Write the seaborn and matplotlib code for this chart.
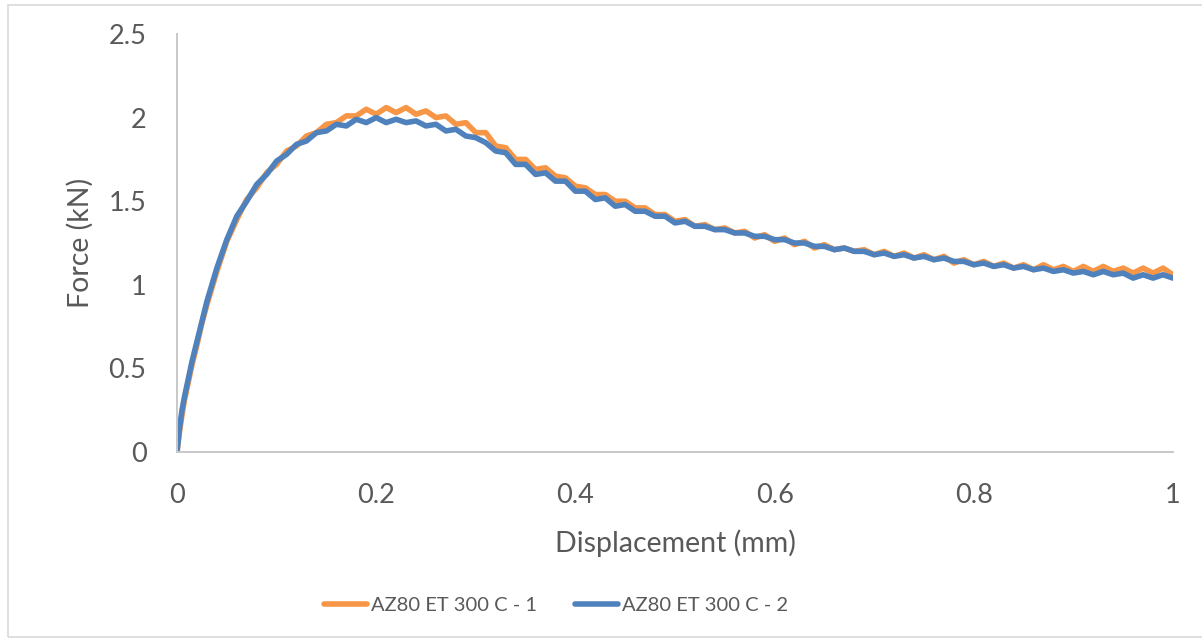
import numpy as np
import pandas as pd
import matplotlib
matplotlib.use("Agg")
import matplotlib.pyplot as plt
import seaborn as sns
from matplotlib.patches import Rectangle

# Displacement sampling (mm): fine steps over the initial elastic rise, then 0.01 mm
disp = [0.0, 0.0025, 0.005, 0.0075, 0.01, 0.015, 0.02, 0.025] + \
       [round(0.03 + 0.01 * i, 2) for i in range(98)]

# Force (kN), specimen 1
force_1 = [
    0.00, 0.12, 0.22, 0.31, 0.38, 0.52, 0.64, 0.77,
    0.88, 1.08, 1.26, 1.39, 1.51, 1.58, 1.67, 1.72, 1.80, 1.83,
    1.89, 1.91, 1.96, 1.97, 2.01, 2.01, 2.05, 2.02, 2.06, 2.03,
    2.06, 2.02, 2.04, 2.00, 2.01, 1.96, 1.97, 1.91, 1.91, 1.83,
    1.82, 1.75, 1.75, 1.69, 1.70, 1.65, 1.64, 1.59, 1.58, 1.54,
    1.54, 1.50, 1.50, 1.46, 1.46, 1.42, 1.42, 1.38, 1.39, 1.35,
    1.36, 1.33, 1.34, 1.31, 1.32, 1.28, 1.30, 1.26, 1.28, 1.24,
    1.26, 1.22, 1.24, 1.21, 1.22, 1.20, 1.21, 1.18, 1.20, 1.17,
    1.19, 1.16, 1.18, 1.15, 1.17, 1.13, 1.15, 1.12, 1.14, 1.11,
    1.13, 1.10, 1.12, 1.09, 1.12, 1.09, 1.11, 1.08, 1.11, 1.08,
    1.11, 1.08, 1.10, 1.07, 1.10, 1.07, 1.10, 1.06,
]

# Force (kN), specimen 2
force_2 = [
    0.00, 0.14, 0.25, 0.33, 0.40, 0.54, 0.66, 0.78,
    0.90, 1.10, 1.27, 1.41, 1.50, 1.60, 1.66, 1.74, 1.78, 1.84,
    1.86, 1.91, 1.92, 1.96, 1.95, 1.99, 1.97, 2.00, 1.97, 1.99,
    1.97, 1.98, 1.95, 1.96, 1.92, 1.93, 1.89, 1.88, 1.85, 1.80,
    1.79, 1.72, 1.72, 1.66, 1.67, 1.62, 1.62, 1.56, 1.56, 1.51,
    1.52, 1.47, 1.48, 1.44, 1.44, 1.41, 1.41, 1.37, 1.38, 1.35,
    1.35, 1.33, 1.33, 1.31, 1.31, 1.29, 1.29, 1.27, 1.27, 1.25,
    1.25, 1.23, 1.23, 1.21, 1.22, 1.20, 1.20, 1.18, 1.19, 1.17,
    1.18, 1.16, 1.17, 1.15, 1.16, 1.14, 1.14, 1.12, 1.13, 1.11,
    1.12, 1.10, 1.11, 1.09, 1.10, 1.08, 1.09, 1.07, 1.08, 1.06,
    1.08, 1.06, 1.07, 1.04, 1.06, 1.04, 1.06, 1.04,
]

series_names = ["AZ80 ET 300 C - 1", "AZ80 ET 300 C - 2"]
series_colors = ["#F79646", "#4F81BD"]
x_ticks = [0, 0.2, 0.4, 0.6, 0.8, 1]
y_ticks = [0, 0.5, 1, 1.5, 2, 2.5]

df = pd.concat([
    pd.DataFrame({"Displacement": disp, "Force": force_1, "Series": series_names[0]}),
    pd.DataFrame({"Displacement": disp, "Force": force_2, "Series": series_names[1]}),
], ignore_index=True)

sns.set_theme(style="white")
plt.rcParams["font.family"] = ["Lato", "DejaVu Sans"]
text_color = "#595959"

fig = plt.figure(figsize=(12.02, 6.39), dpi=100)
ax = fig.add_axes([177 / 1202, 1 - 452 / 639, 996 / 1202, (452 - 34) / 639])

sns.lineplot(data=df, x="Displacement", y="Force", hue="Series",
             palette=dict(zip(series_names, series_colors)),
             linewidth=4.0, sort=False, estimator=None, ax=ax, legend=False)

ax.set_xlim(0, 1)
ax.set_ylim(0, 2.5)
ax.set_xticks(x_ticks)
ax.set_xticklabels([f"{v:g}" for v in x_ticks])
ax.set_yticks(y_ticks)
ax.set_yticklabels([f"{v:g}" for v in y_ticks])
ax.tick_params(axis="both", length=0, labelsize=19.5, colors=text_color)
ax.tick_params(axis="x", pad=22)
ax.tick_params(axis="y", pad=22)
for side in ["top", "right"]:
    ax.spines[side].set_visible(False)
for side in ["left", "bottom"]:
    ax.spines[side].set_color("#C8C8C8")
    ax.spines[side].set_linewidth(1.4)

ax.set_xlabel("Displacement (mm)", fontsize=20.5, color=text_color, labelpad=16)
ax.set_ylabel("Force (kN)", fontsize=20.5, color=text_color, labelpad=11)

handles = [plt.Line2D([], [], color=c, linewidth=4.0) for c in series_colors]
fig.legend(handles, series_names, loc="center", bbox_to_anchor=(0.4626, 1 - 605 / 639),
           ncol=2, frameon=False, fontsize=14.5, labelcolor=text_color,
           handlelength=2.15, handletextpad=0.2, columnspacing=1.9)

# Light chart-area border
fig.patches.append(Rectangle((8 / 1202, 1 - 637 / 639), 1.1, 632 / 639,
                             transform=fig.transFigure, fill=False,
                             edgecolor="#D9D9D9", linewidth=1.2))

fig.savefig("out.png", dpi=100)
